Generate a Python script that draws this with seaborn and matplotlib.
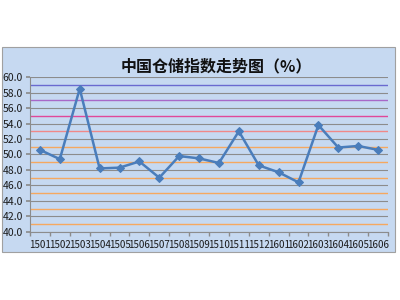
import matplotlib
matplotlib.use("Agg")
import matplotlib.pyplot as plt
import seaborn as sns
import pandas as pd
from matplotlib.patches import Rectangle

months = ["1501", "1502", "1503", "1504", "1505", "1506", "1507", "1508", "1509",
          "1510", "1511", "1512", "1601", "1602", "1603", "1604", "1605", "1606"]
values = [50.6, 49.4, 58.5, 48.2, 48.3, 49.1, 47.0, 49.8, 49.5,
          48.9, 53.0, 48.6, 47.7, 46.4, 53.8, 50.9, 51.1, 50.6]
grid_levels = [40, 42, 44, 46, 48, 50, 52, 54, 56, 58, 60]
ref_levels = [59, 57, 55, 53, 51, 49, 47, 45, 43, 41]
ref_colors = ["#6a6ad0", "#a868c8", "#e0489a", "#f08888", "#f5a860",
              "#f5a860", "#f5a860", "#f5a860", "#f5a860", "#f5a860"]
title = "中国仓储指数走势图（%）"

sns.set_theme(style="white")
plt.rcParams['font.family'] = ['Noto Sans CJK SC', 'DejaVu Sans']

df = pd.DataFrame({"x": range(len(months)), "v": values})

fig = plt.figure(figsize=(4, 3), dpi=100)
fig.patch.set_facecolor("white")
fig.patches.append(Rectangle((0.004, 0.16), 0.984, 0.683, transform=fig.transFigure,
                             facecolor="#c6d9f1", edgecolor="#a0a0a0", linewidth=0.8, zorder=-5))

ax = fig.add_axes([0.075, 0.227, 0.895, 0.516])
ax.set_zorder(2)
ax.set_facecolor("#c6d9f1")

for g in grid_levels:
    ax.axhline(g, color="#8c8c8c", linewidth=0.8, zorder=1)
for r, c in zip(ref_levels, ref_colors):
    ax.axhline(r, color=c, linewidth=1.0, zorder=1)

sns.lineplot(data=df, x="x", y="v", ax=ax, color="#4a7dbb", linewidth=1.8,
             marker="D", markersize=4.5, markeredgecolor="#4a7dbb", zorder=3)

ax.set_xlim(-0.5, len(months) - 0.5)
ax.set_ylim(40, 60)
ax.set_yticks(grid_levels)
ax.set_yticklabels([f"{g:.1f}" for g in grid_levels])
ax.set_xticks(range(len(months)))
ax.set_xticklabels(months)
ax.set_xticks([i - 0.5 for i in range(len(months) + 1)], minor=True)
ax.tick_params(axis="x", which="major", length=0, labelsize=7, pad=6, colors="#1a1a1a")
ax.tick_params(axis="x", which="minor", length=3, color="#8c8c8c", bottom=True)
ax.tick_params(axis="y", which="major", length=3, labelsize=7.5, pad=2, left=True,
               color="#8c8c8c", labelcolor="#1a1a1a")
ax.set_xlabel("")
ax.set_ylabel("")
for s in ["top", "right"]:
    ax.spines[s].set_visible(False)
for s in ["left", "bottom"]:
    ax.spines[s].set_color("#8c8c8c")
    ax.spines[s].set_linewidth(0.8)

fig.text(0.54, 0.78, title, ha="center", va="center", fontsize=11.5, fontweight="semibold", color="#111111")

fig.savefig("out.png", dpi=100)
